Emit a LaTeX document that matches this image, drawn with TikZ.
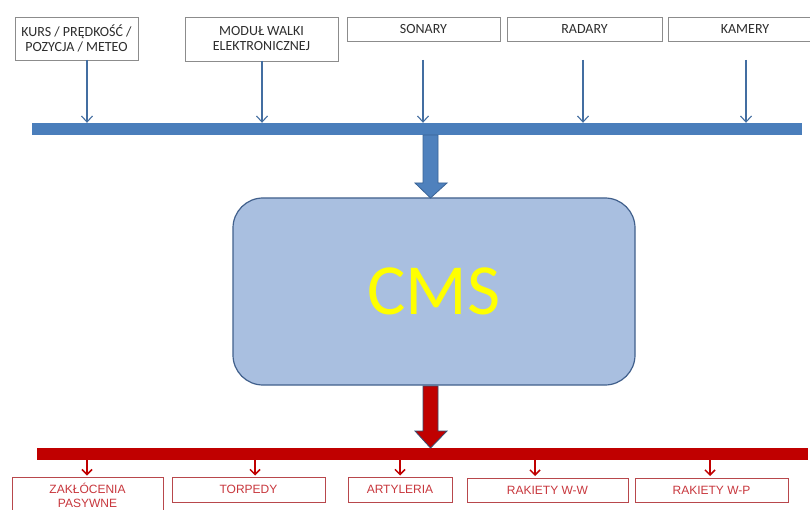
\documentclass[tikz,border=0pt]{standalone}
\usepackage{fontspec}
\setmainfont{Carlito}
\newfontfamily\arialf{Liberation Sans}
\usetikzlibrary{arrows.meta,calc}
\definecolor{barblue}{HTML}{4A7EBB}
\definecolor{bigblue}{HTML}{4F81BD}
\definecolor{blueedge}{HTML}{3B6496}
\definecolor{cmsfill}{HTML}{A9BFE0}
\definecolor{cmsedge}{HTML}{41608C}
\definecolor{barred}{HTML}{C00000}
\definecolor{txtred}{HTML}{C8373D}
\definecolor{boxred}{HTML}{B8474C}
\definecolor{txtgray}{HTML}{2E2E2E}
\definecolor{boxgray}{HTML}{8C8C8C}
\definecolor{cmsyellow}{HTML}{FFFF00}
\tikzset{
  inbox/.style={draw=boxgray, line width=0.8pt, fill=white, inner sep=0pt, align=center,
    text=txtgray, font=\fontsize{14}{15}\selectfont},
  outbox/.style={draw=boxred, line width=0.8pt, fill=white, inner sep=0pt, align=center,
    text=txtred, font=\arialf\fontsize{12}{14}\selectfont},
  inarrow/.style={draw=bigblue!85!black, line width=1.1pt, -{Straight Barb[length=6pt,width=11pt]}},
  outarrow/.style={draw=barred, line width=1.5pt, -{Straight Barb[length=5pt,width=10pt]}},
}
\begin{document}
\begin{tikzpicture}[x=1pt,y=-1pt]
\useasboundingbox (0,0) rectangle (810,510);
\fill[white] (0,0) rectangle (810,510);

% input boxes
\node[inbox, minimum width=123pt, minimum height=43pt] (kurs) at (76.5,38.5) {KURS / PRĘDKOŚĆ /\\POZYCJA / METEO};
\node[inbox, minimum width=153pt, minimum height=44pt] (modul) at (261.5,39) {MODUŁ WALKI\\ELEKTRONICZNEJ};
\node[inbox, minimum width=153pt, minimum height=24pt] (sonary) at (423.5,29) {SONARY};
\node[inbox, minimum width=155pt, minimum height=24pt] (radary) at (584.5,29) {RADARY};
\node[inbox, minimum width=154pt, minimum height=24pt] (kamery) at (745,29) {KAMERY};

% blue bar
\node[fill=barblue, minimum width=770pt, minimum height=12pt, inner sep=0pt] (bluebar) at (417,129) {};

\coordinate (a1) at (87,60);
\coordinate (a2) at (262,61);
\coordinate (a3) at (423,60);
\coordinate (a4) at (583,60);
\coordinate (a5) at (746,60);
\draw[inarrow] (a1) -- (a1 |- bluebar.north);
\draw[inarrow] (a2) -- (a2 |- bluebar.north);
\draw[inarrow] (a3) -- (a3 |- bluebar.north);
\draw[inarrow] (a4) -- (a4 |- bluebar.north);
\draw[inarrow] (a5) -- (a5 |- bluebar.north);

% CMS
\node[draw=cmsedge, line width=1.2pt, fill=cmsfill, rounded corners=30pt,
  minimum width=402pt, minimum height=187pt, inner sep=0pt,
  text=cmsyellow, font=\fontsize{72}{76}\selectfont] (cms) at (434,291.5) {CMS};

% big blue arrow
\filldraw[fill=bigblue, draw=blueedge, line width=0.8pt]
  (423,135) -- (438,135) -- (438,183) -- (447,183) -- (430.5,198) -- (415,183) -- (423,183) -- cycle;

% red bar
\node[fill=barred, minimum width=771pt, minimum height=12pt, inner sep=0pt] (redbar) at (422.5,454) {};

% big red arrow
\filldraw[fill=barred, draw=cmsedge!80!black, line width=0.8pt]
  (423,386) -- (438,386) -- (438,431) -- (447,431) -- (430.5,448) -- (415,431) -- (423,431) -- cycle;

% output boxes
\node[outbox, minimum width=151pt, minimum height=36pt] (zak) at (87.5,495) {ZAKŁÓCENIA\\PASYWNE};
\node[outbox, minimum width=153pt, minimum height=25pt] (torp) at (248.5,489.5) {TORPEDY};
\node[outbox, minimum width=104pt, minimum height=25pt] (art) at (400,489.5) {ARTYLERIA};
\node[outbox, minimum width=161pt, minimum height=24pt] (ww) at (547.5,490) {RAKIETY W-W};
\node[outbox, minimum width=153pt, minimum height=24pt] (wp) at (711.5,490) {RAKIETY W-P};

\coordinate (b1) at (87,475.5);
\coordinate (b2) at (255,475.5);
\coordinate (b3) at (400,475.5);
\coordinate (b4) at (535,476);
\coordinate (b5) at (710,476);
\draw[outarrow] (b1 |- redbar.south) -- (b1);
\draw[outarrow] (b2 |- redbar.south) -- (b2);
\draw[outarrow] (b3 |- redbar.south) -- (b3);
\draw[outarrow] (b4 |- redbar.south) -- (b4);
\draw[outarrow] (b5 |- redbar.south) -- (b5);
\end{tikzpicture}
\end{document}
